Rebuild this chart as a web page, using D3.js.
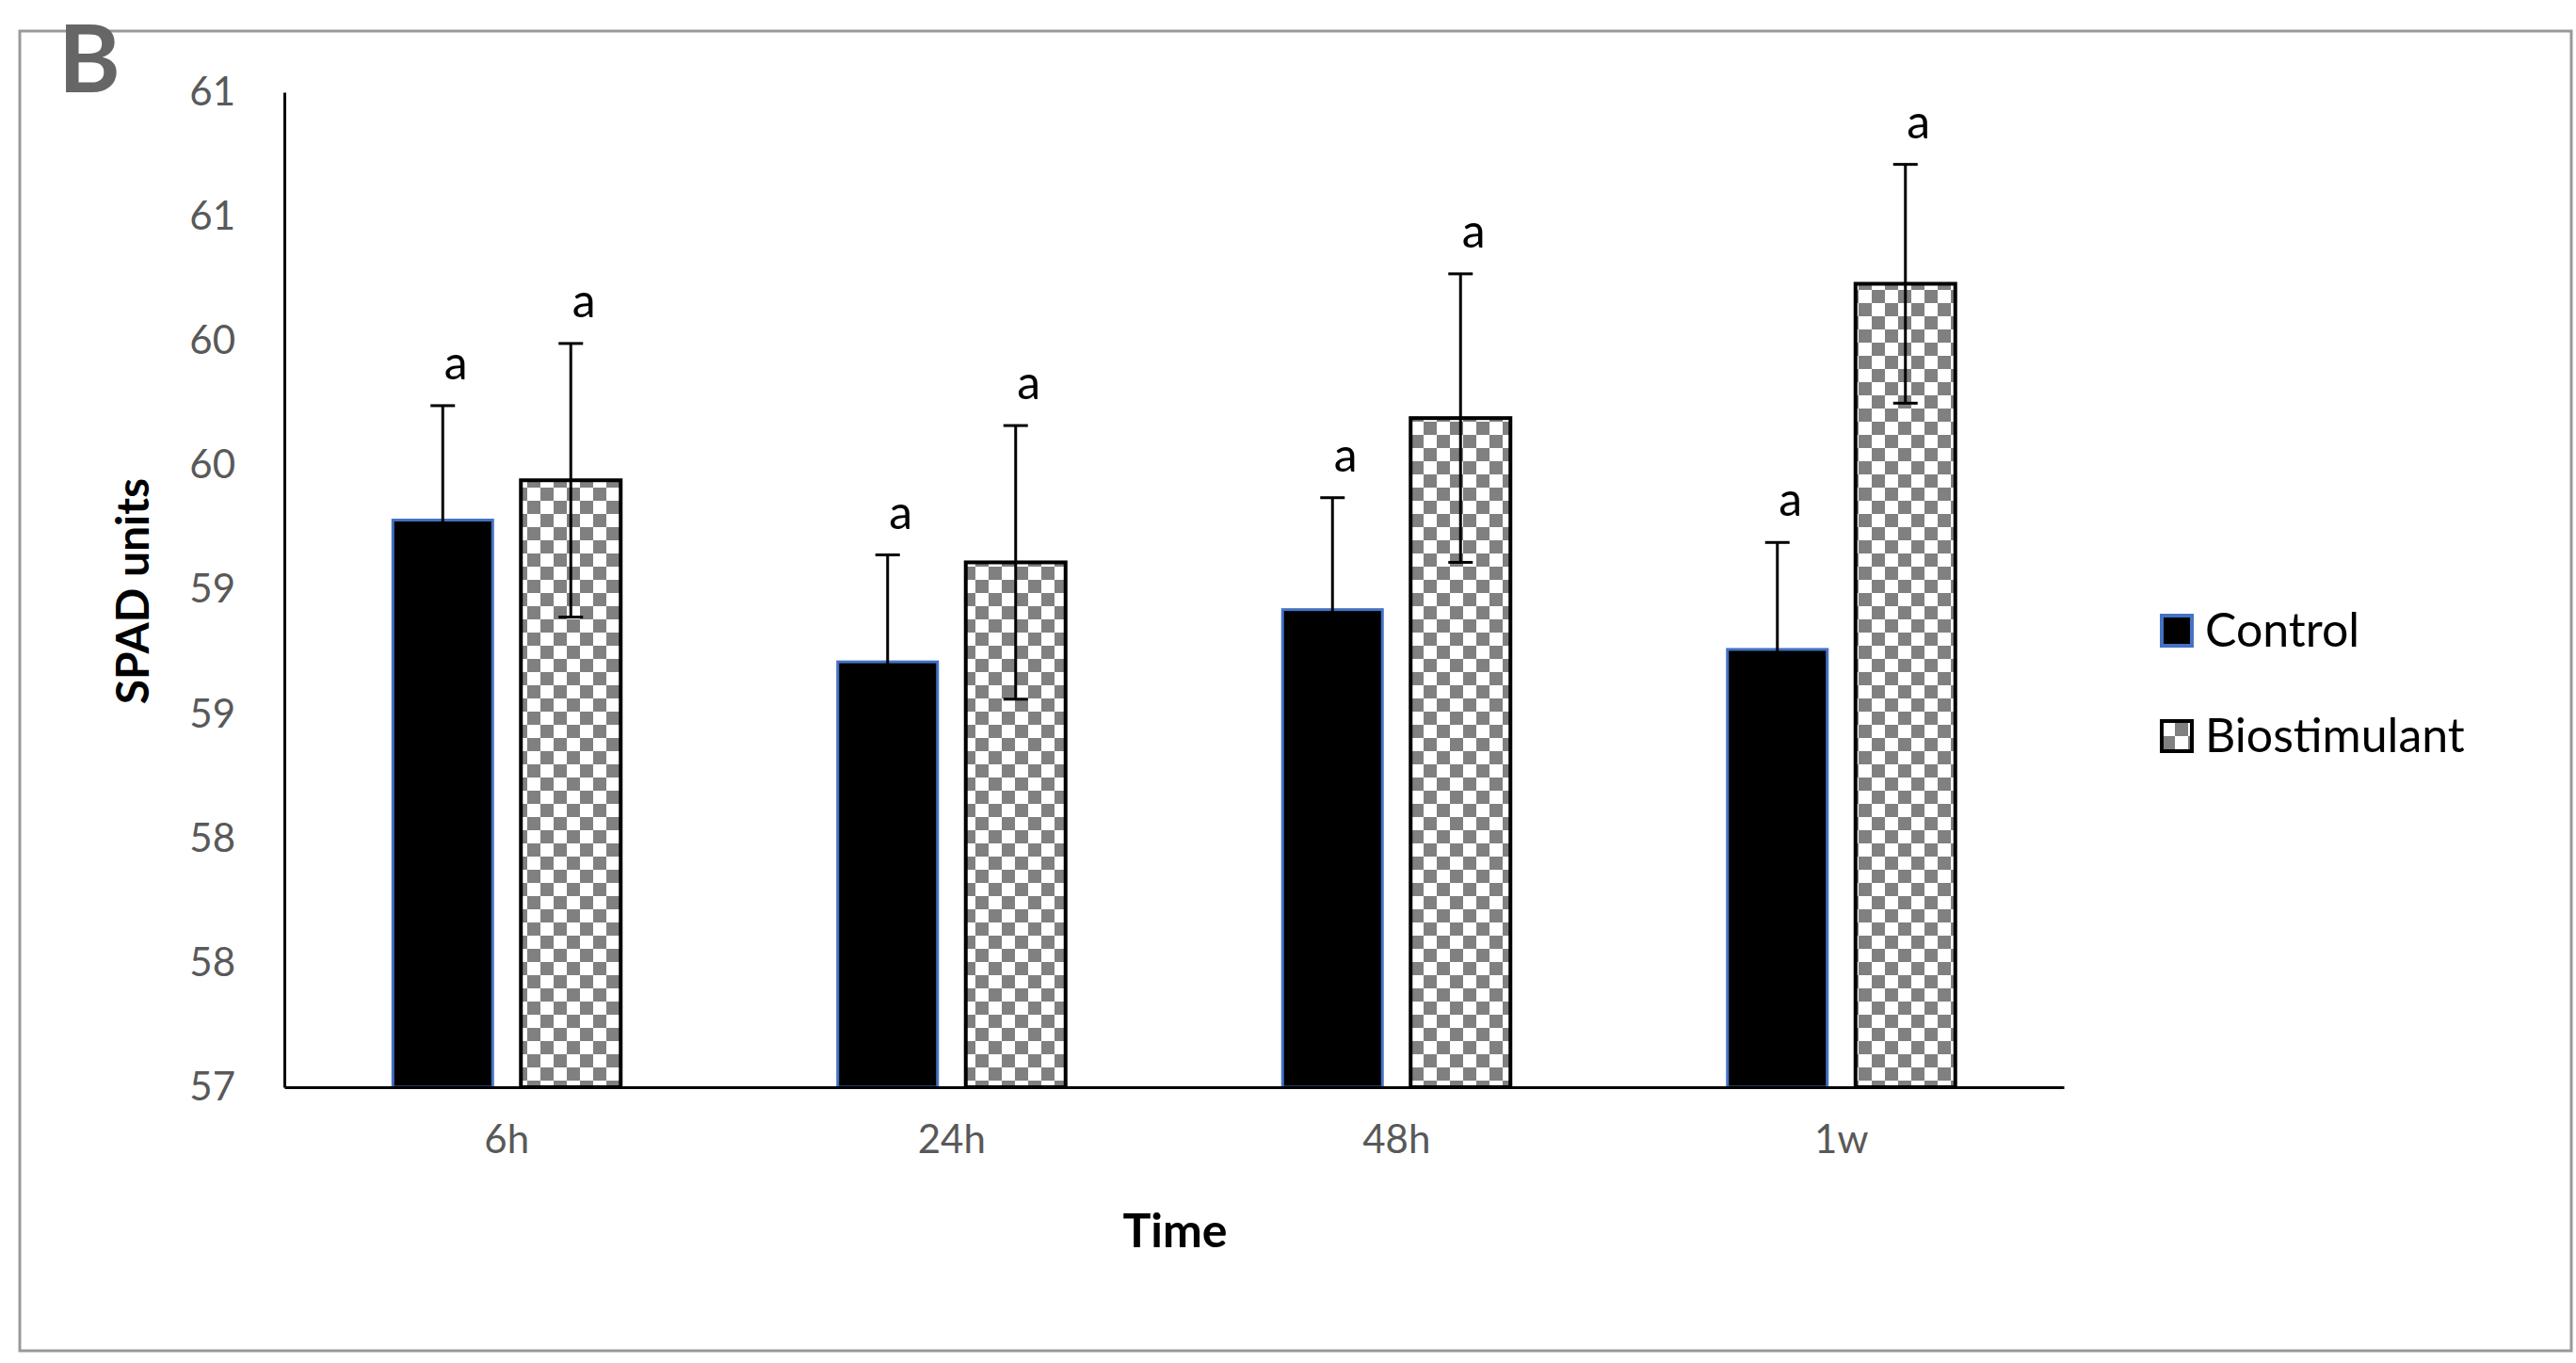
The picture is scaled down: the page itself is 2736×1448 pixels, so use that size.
<!DOCTYPE html>
<html>
<head>
<meta charset="utf-8">
<script src="https://cdn.jsdelivr.net/npm/d3@7"></script>
<style>
  body { margin: 0; background: #fff; }
  svg { font-family: Lato, "Open Sans", sans-serif; }
</style>
</head>
<body>
<svg id="chart" width="2736" height="1448"></svg>
<script>
const categories = ["6h", "24h", "48h", "1w"];
const series = ["Control", "Biostimulant"];
const controlMeans = [59.28, 58.71, 58.92, 58.76];
const controlErr = [0.46, 0.43, 0.45, 0.43];
const bioMeans = [59.44, 59.11, 59.69, 60.23];
const bioErr = [0.55, 0.55, 0.58, 0.48];
const letters = [["a", "a"], ["a", "a"], ["a", "a"], ["a", "a"]];
const yTicks = [57, 57.5, 58, 58.5, 59, 59.5, 60, 60.5, 61];

const svg = d3.select("#chart");

// pattern for the biostimulant bars
const pat = svg.append("defs").append("pattern")
    .attr("id", "checker")
    .attr("width", 28).attr("height", 28)
    .attr("patternUnits", "userSpaceOnUse");
pat.append("rect").attr("width", 28).attr("height", 28).attr("fill", "#fff");
pat.append("rect").attr("width", 14).attr("height", 14).attr("fill", "#808080");
pat.append("rect").attr("x", 14).attr("y", 14).attr("width", 14).attr("height", 14).attr("fill", "#808080");

// outer frame
svg.append("rect")
    .attr("x", 21).attr("y", 33).attr("width", 2710).attr("height", 1402)
    .attr("fill", "none").attr("stroke", "#999").attr("stroke-width", 3);

svg.append("text")
    .attr("x", 62).attr("y", 98)
    .attr("font-size", 100).attr("font-weight", "bold").attr("fill", "#666")
    .text("B");

const x = d3.scaleBand().domain(categories).range([302, 2192]);
const y = d3.scaleLinear().domain([57, 61]).range([1155, 98]);

const data = categories.map((c, i) => [
    { cat: c, s: 0, v: controlMeans[i], e: controlErr[i], l: letters[i][0] },
    { cat: c, s: 1, v: bioMeans[i], e: bioErr[i], l: letters[i][1] }
]).flat();

const barW = 106, off = 68;
const cx = d => x(d.cat) + x.bandwidth() / 2 + (d.s === 0 ? -off : off);

svg.selectAll(".bar").data(data).enter().append("rect")
    .attr("x", d => cx(d) - barW / 2)
    .attr("y", d => y(d.v))
    .attr("width", barW)
    .attr("height", d => y(57) - y(d.v))
    .attr("fill", d => d.s === 0 ? "#000" : "url(#checker)")
    .attr("stroke", d => d.s === 0 ? "#4472c4" : "#000")
    .attr("stroke-width", d => d.s === 0 ? 3 : 4);

const eb = svg.selectAll(".err").data(data).enter().append("g");
eb.append("line")
    .attr("x1", cx).attr("x2", cx)
    .attr("y1", d => y(d.v - d.e)).attr("y2", d => y(d.v + d.e))
    .attr("stroke", "#000").attr("stroke-width", 3);
eb.append("line")
    .attr("x1", d => cx(d) - 13).attr("x2", d => cx(d) + 13)
    .attr("y1", d => y(d.v + d.e)).attr("y2", d => y(d.v + d.e))
    .attr("stroke", "#000").attr("stroke-width", 3);
eb.append("line")
    .attr("x1", d => cx(d) - 13).attr("x2", d => cx(d) + 13)
    .attr("y1", d => y(d.v - d.e)).attr("y2", d => y(d.v - d.e))
    .attr("stroke", "#000").attr("stroke-width", 3);
eb.append("text")
    .attr("x", d => cx(d) + 14)
    .attr("y", d => y(d.v + d.e) - 28)
    .attr("text-anchor", "middle")
    .attr("font-size", 50).attr("fill", "#000")
    .text(d => d.l);

// axes
const yAxis = svg.append("g").attr("transform", "translate(302,0)")
    .call(d3.axisLeft(y).tickValues(yTicks).tickSize(0).tickPadding(52)
        .tickFormat(d3.format(".0f")));
yAxis.select(".domain").attr("stroke", "#000").attr("stroke-width", 3);
yAxis.selectAll("text").attr("font-size", 42).attr("fill", "#595959")
    .attr("font-family", "Lato, sans-serif");

const xAxis = svg.append("g").attr("transform", "translate(0,1155)")
    .call(d3.axisBottom(x).tickSize(0).tickPadding(40));
xAxis.select(".domain").attr("stroke", "#000").attr("stroke-width", 3);
xAxis.selectAll("text").attr("font-size", 42).attr("fill", "#595959")
    .attr("font-family", "Lato, sans-serif");

svg.append("text")
    .attr("x", 1248).attr("y", 1325)
    .attr("text-anchor", "middle")
    .attr("font-size", 50).attr("font-weight", "bold")
    .text("Time");

svg.append("text")
    .attr("transform", "translate(158,628) rotate(-90)")
    .attr("text-anchor", "middle")
    .attr("font-size", 48).attr("font-weight", "bold")
    .text("SPAD units");

// legend
const leg = svg.selectAll(".leg").data(series).enter().append("g")
    .attr("transform", (d, i) => `translate(2296,${670 + i * 112})`);
leg.append("rect")
    .attr("x", 0).attr("y", -16).attr("width", 32).attr("height", 32)
    .attr("fill", (d, i) => i === 0 ? "#000" : "url(#checker)")
    .attr("stroke", (d, i) => i === 0 ? "#4472c4" : "#000")
    .attr("stroke-width", 4);
leg.append("text")
    .attr("x", 46).attr("y", 17)
    .attr("font-size", 50).attr("fill", "#000")
    .text(d => d);
</script>
</body>
</html>
